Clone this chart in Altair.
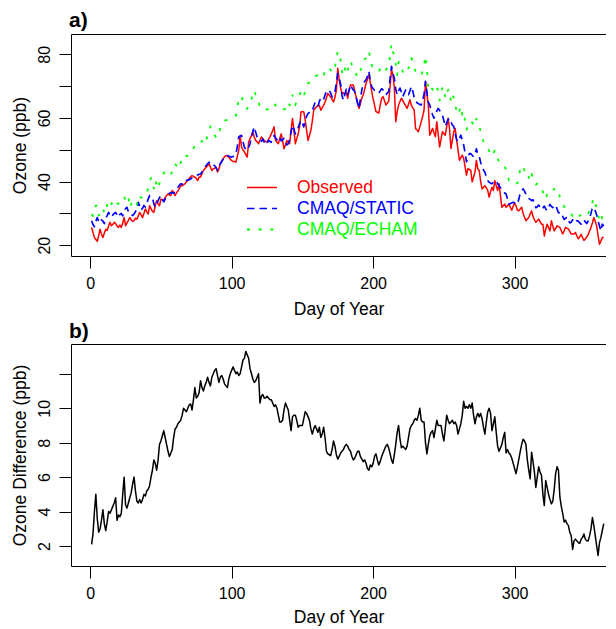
import altair as alt
import pandas as pd

FONT = "Liberation Sans"

series_names = ["Observed", "CMAQ/STATIC", "CMAQ/ECHAM"]
series_colors = ["#ff0000", "#0000ff", "#00ff00"]
series_dashes = [[1, 0], [7.5, 5], [3, 8.7]]
series_widths = [1.5, 1.8, 3.0]

x_ticks = [0, 100, 200, 300]
top_y_ticks = [20, 30, 40, 50, 60, 70, 80]
bottom_y_ticks = [2, 4, 6, 8, 10, 12]

# daily mean ozone (ppb), day 1 .. 363
observed = [
    25.6, 24.0, 22.4, 21.8, 21.2, 23.0, 25.0, 23.5, 22.4, 23.8,
    25.0, 24.6, 26.0, 27.2, 26.1, 26.5, 27.2, 26.8, 26.0, 25.6,
    26.3, 25.6, 27.0, 28.7, 26.1, 27.0, 27.8, 28.7, 28.0, 27.5,
    27.7, 28.5, 28.2, 29.2, 30.3, 29.5, 28.7, 30.0, 31.4, 30.5,
    29.8, 32.4, 31.5, 30.6, 30.3, 32.5, 34.0, 33.0, 32.4, 34.5,
    34.3, 34.0, 35.0, 35.6, 36.1, 35.8, 35.6, 37.2, 36.5, 35.6,
    36.5, 37.0, 37.8, 38.7, 38.7, 39.0, 39.3, 40.0, 40.3, 41.0,
    41.5, 41.9, 41.6, 41.4, 41.0, 40.3, 41.4, 41.4, 42.5, 43.5,
    44.0, 44.5, 45.0, 45.6, 44.5, 43.5, 44.0, 44.2, 44.5, 43.0,
    44.0, 45.6, 46.5, 47.2, 47.8, 48.2, 48.0, 47.7, 47.0, 46.6,
    46.4, 46.3, 46.1, 48.0, 49.8, 54.5, 50.8, 50.0, 49.3, 48.5,
    47.7, 52.4, 53.5, 54.5, 55.6, 54.0, 52.9, 52.5, 51.9, 53.0,
    54.0, 53.5, 52.9, 52.6, 52.4, 53.2, 54.0, 55.0, 56.0, 57.2,
    52.9, 52.4, 51.9, 53.5, 55.0, 52.9, 50.3, 51.5, 52.9, 52.4,
    51.9, 56.1, 59.8, 56.1, 51.9, 53.5, 55.0, 57.2, 61.9, 62.0,
    61.9, 59.3, 56.0, 52.9, 54.5, 56.1, 59.0, 62.4, 63.0, 63.5,
    63.8, 64.0, 62.4, 63.2, 64.0, 65.0, 66.3, 67.7, 67.2, 66.6,
    65.8, 65.0, 66.5, 68.7, 75.6, 71.9, 69.5, 67.7, 67.9, 67.3,
    68.2, 66.2, 68.7, 70.4, 70.4, 70.4, 68.5, 66.5, 64.5, 63.0,
    64.5, 66.2, 67.3, 69.0, 70.9, 72.2, 73.6, 71.0, 68.3, 66.0,
    64.0, 62.0, 61.8, 61.5, 64.0, 66.2, 66.7, 65.5, 64.1, 64.6,
    65.2, 70.0, 75.2, 73.6, 69.4, 58.8, 62.0, 64.1, 65.2, 66.2,
    65.4, 64.6, 63.8, 63.0, 64.3, 65.7, 64.0, 63.2, 62.5, 56.7,
    56.2, 55.7, 57.2, 58.8, 60.5, 62.5, 71.5, 67.8, 64.1, 54.6,
    55.6, 56.7, 55.4, 54.1, 58.8, 54.8, 50.9, 53.3, 55.7, 55.0,
    54.6, 57.3, 59.9, 56.7, 50.4, 53.0, 55.7, 56.7, 53.3, 50.0,
    46.7, 47.5, 48.3, 47.3, 44.6, 42.0, 44.1, 43.8, 43.6, 39.9,
    41.4, 43.0, 46.6, 44.0, 43.5, 40.0, 37.7, 38.2, 38.7, 38.0,
    37.2, 35.1, 36.8, 38.2, 37.2, 40.3, 38.7, 37.2, 39.3, 35.5,
    31.9, 32.4, 32.9, 31.9, 32.4, 33.0, 31.9, 31.0, 32.3, 33.2,
    32.4, 31.0, 30.8, 31.4, 31.9, 30.0, 28.8, 27.7, 28.2, 28.7,
    29.8, 30.8, 29.0, 28.0, 27.2, 27.7, 28.2, 27.4, 26.6, 26.6,
    22.9, 25.0, 26.6, 25.5, 24.5, 27.7, 26.0, 24.5, 25.3, 26.1,
    25.8, 25.6, 24.5, 23.5, 24.5, 25.6, 25.3, 25.1, 24.3, 23.5,
    23.5, 23.5, 24.0, 22.9, 22.0, 22.6, 23.4, 22.4, 21.5, 21.9,
    22.6, 23.3, 24.5, 25.6, 27.0, 28.7, 27.5, 26.1, 23.0, 20.3,
    21.3, 22.4, 22.4,
]

cmaq_static = [
    27.7, 26.5, 25.8, 27.5, 28.7, 27.5, 27.0, 28.0, 27.6, 26.8,
    28.5, 29.3, 30.3, 29.5, 28.8, 29.5, 30.0, 30.3, 29.5, 28.8,
    29.7, 30.0, 29.2, 30.8, 31.5, 31.9, 30.5, 29.7, 29.5, 29.3,
    29.8, 30.5, 31.5, 33.5, 32.2, 31.0, 31.6, 32.5, 32.0, 33.0,
    34.5, 35.6, 35.3, 35.0, 33.0, 31.9, 33.0, 34.0, 35.0, 35.6,
    34.5, 33.6, 34.5, 35.2, 35.8, 36.3, 36.6, 36.5, 36.3, 37.0,
    37.5, 38.2, 38.8, 39.3, 39.2, 39.0, 39.7, 40.3, 40.5, 40.6,
    40.8, 41.2, 41.5, 41.8, 41.9, 42.1, 42.3, 42.4, 43.0, 43.7,
    44.5, 45.0, 45.6, 46.1, 45.6, 45.0, 45.3, 45.0, 44.3, 43.5,
    44.6, 45.6, 46.3, 47.0, 47.7, 48.0, 48.2, 48.0, 47.8, 47.7,
    47.9, 48.2, 48.7, 51.0, 54.0, 54.3, 54.5, 52.5, 50.8, 50.2,
    49.8, 50.8, 51.9, 54.0, 55.8, 57.2, 55.5, 54.0, 53.5, 52.9,
    52.7, 53.4, 52.4, 51.6, 51.9, 53.0, 52.6, 52.4, 53.9, 54.5,
    53.8, 53.1, 54.2, 53.8, 52.8, 53.2, 53.6, 52.5, 51.5, 51.9,
    53.5, 55.5, 57.7, 56.5, 55.0, 56.0, 57.0, 58.2, 59.3, 58.5,
    57.2, 59.0, 60.6, 61.4, 61.8, 62.4, 62.2, 63.6, 65.0, 64.5,
    63.8, 65.2, 66.4, 66.0, 65.8, 67.2, 68.3, 68.2, 68.7, 67.8,
    66.6, 67.4, 68.2, 71.0, 74.0, 72.3, 70.8, 67.0, 65.6, 67.5,
    69.0, 67.3, 68.7, 70.4, 69.5, 68.8, 68.3, 66.5, 64.8, 63.0,
    66.0, 68.8, 70.5, 71.5, 72.0, 73.2, 74.6, 72.0, 69.8, 69.2,
    68.7, 68.3, 68.0, 67.8, 68.5, 69.2, 68.8, 68.0, 67.3, 67.8,
    68.3, 72.5, 76.2, 74.0, 72.5, 69.0, 67.3, 68.6, 69.4, 68.0,
    66.7, 67.8, 68.8, 68.0, 67.3, 68.5, 69.9, 68.5, 66.5, 65.2,
    64.8, 64.5, 64.2, 64.1, 65.5, 67.5, 71.5, 68.0, 65.0, 64.1,
    62.5, 61.0, 59.9, 61.0, 62.2, 63.0, 62.4, 61.6, 60.9, 59.2,
    57.3, 58.5, 59.5, 59.9, 58.8, 57.8, 57.3, 55.0, 53.2, 52.5,
    53.5, 54.6, 53.0, 51.5, 49.0, 46.2, 47.5, 48.8, 48.8, 48.3,
    47.8, 48.7, 50.3, 48.5, 48.0, 46.0, 44.5, 43.7, 42.9, 41.5,
    40.3, 39.8, 39.5, 39.3, 39.8, 40.3, 40.1, 39.4, 38.7, 38.0,
    37.2, 36.8, 36.4, 36.1, 34.5, 32.9, 33.1, 33.3, 33.5, 33.3,
    33.1, 32.9, 34.5, 36.5, 37.2, 37.7, 37.0, 36.0, 35.1, 34.7,
    34.4, 34.0, 34.3, 33.0, 31.8, 32.0, 32.6, 32.0, 31.2, 31.7,
    32.3, 31.4, 30.9, 31.9, 32.8, 32.2, 31.8, 32.4, 32.6, 31.4,
    30.2, 30.2, 30.3, 29.1, 28.1, 28.4, 28.9, 27.8, 27.0, 27.2,
    28.0, 27.6, 27.0, 27.7, 27.6, 27.0, 26.6, 27.3, 28.0, 27.3,
    26.8, 27.6, 28.5, 30.0, 31.9, 31.3, 30.8, 29.5, 27.7, 26.0,
    24.5, 26.6, 26.0,
]

cmaq_echam = [
    29.8, 29.2, 31.0, 32.5, 32.3, 29.3, 30.0, 31.5, 31.7, 30.1,
    30.0, 32.7, 34.3, 33.4, 32.9, 33.8, 34.5, 34.2, 33.2, 33.0,
    33.4, 33.9, 34.2, 35.3, 33.9, 34.8, 35.3, 31.8, 33.0, 34.0,
    34.3, 33.7, 32.8, 35.6, 35.2, 35.0, 34.8, 35.5, 35.6, 36.5,
    37.8, 40.0, 41.2, 39.5, 37.8, 40.4, 39.0, 37.7, 39.5, 41.0,
    41.5, 42.8, 43.0, 42.2, 41.8, 42.0, 42.0, 43.5, 45.0, 45.6,
    45.0, 44.5, 44.0, 46.0, 47.4, 47.0, 47.5, 48.2, 48.0, 48.5,
    49.0, 49.5, 50.5, 51.0, 50.8, 51.5, 52.0, 52.3, 52.8, 52.0,
    51.6, 53.0, 54.5, 56.0, 57.4, 56.2, 55.0, 54.5, 54.0, 53.7,
    55.0, 57.0, 57.8, 58.7, 59.1, 59.3, 59.4, 59.7, 59.8, 59.9,
    60.3, 60.4, 60.7, 63.1, 65.9, 66.3, 66.9, 65.3, 63.7, 63.5,
    62.9, 63.7, 64.2, 66.0, 67.5, 68.7, 67.1, 65.8, 65.5, 63.2,
    63.4, 63.4, 63.0, 62.8, 62.6, 62.8, 63.1, 63.7, 64.2, 64.6,
    64.0, 63.1, 63.0, 63.0, 62.8, 62.5, 62.8, 62.8, 63.5, 65.0,
    64.0, 64.2, 67.2, 64.5, 64.0, 65.3, 65.9, 67.2, 68.3, 67.5,
    66.6, 68.8, 70.3, 70.9, 71.1, 71.2, 71.5, 72.4, 73.2, 73.3,
    73.4, 72.5, 72.5, 73.0, 73.5, 74.5, 75.2, 75.5, 76.0, 75.0,
    74.2, 75.5, 76.0, 78.3, 81.0, 79.5, 78.2, 74.5, 73.2, 75.3,
    76.9, 75.1, 76.3, 77.9, 76.7, 75.8, 75.4, 73.8, 72.8, 74.5,
    75.0, 75.8, 77.4, 78.5, 78.8, 79.7, 81.0, 78.7, 76.4, 76.0,
    75.9, 75.6, 75.0, 74.5, 75.4, 76.4, 76.2, 75.6, 75.1, 75.7,
    76.0, 79.8, 83.2, 80.8, 79.8, 76.9, 73.5, 77.6, 77.6, 75.7,
    74.5, 75.5, 76.4, 75.8, 75.6, 77.3, 78.9, 77.6, 75.8, 74.6,
    74.1, 74.1, 74.2, 73.4, 74.7, 76.7, 79.5, 75.4, 69.0, 68.5,
    69.5, 69.0, 68.2, 69.8, 69.5, 68.5, 65.5, 68.0, 69.4, 69.8,
    66.1, 68.1, 68.8, 69.0, 65.0, 67.1, 66.4, 64.2, 62.2, 61.0,
    62.3, 63.7, 61.0, 61.9, 59.0, 56.3, 57.5, 59.0, 58.8, 58.6,
    57.4, 57.8, 59.8, 58.2, 57.5, 55.7, 53.9, 52.6, 51.4, 50.7,
    50.1, 49.8, 48.0, 48.3, 48.9, 49.8, 48.7, 47.2, 46.2, 45.7,
    45.1, 45.1, 45.0, 43.5, 42.1, 40.3, 40.4, 40.4, 40.3, 39.8,
    39.3, 39.5, 41.5, 44.0, 45.1, 44.5, 43.5, 42.5, 41.0, 41.5,
    40.3, 42.4, 40.4, 39.3, 39.0, 39.4, 38.4, 38.3, 38.0, 36.7,
    35.0, 34.5, 36.0, 36.9, 36.8, 36.6, 37.0, 37.7, 37.8, 38.0,
    37.2, 35.0, 33.9, 33.0, 32.1, 31.9, 31.5, 31.0, 30.3, 29.8,
    29.2, 29.9, 30.1, 30.0, 29.2, 29.2, 29.6, 29.8, 30.2, 29.7,
    29.5, 29.9, 31.1, 31.5, 33.5, 34.8, 33.4, 31.5, 29.2, 28.2,
    27.0, 29.5, 29.3,
]

# ozone difference (ppb), day 1 .. 363
ozone_difference = [
    2.1, 2.7, 4.0, 5.0, 3.6, 2.8, 3.0, 3.5, 4.1, 3.3,
    2.9, 3.4, 4.0, 3.9, 4.1, 4.3, 4.5, 4.8, 3.5, 3.8,
    3.7, 3.9, 5.0, 6.0, 4.4, 4.2, 4.5, 4.8, 5.1, 5.6,
    6.0, 5.2, 4.6, 4.5, 4.7, 4.5, 4.7, 5.0, 4.9, 5.2,
    5.3, 5.5, 6.0, 6.4, 7.0, 6.8, 6.4, 7.0, 7.9, 8.1,
    8.4, 8.7, 8.3, 7.9, 7.5, 7.2, 7.4, 7.6, 8.3, 8.8,
    8.9, 9.1, 9.2, 9.3, 9.6, 10.0, 9.9, 9.8, 10.0, 10.2,
    10.25, 9.9, 10.5, 11.2, 10.6, 10.7, 10.9, 11.6, 11.2, 11.0,
    11.3, 11.5, 11.8, 11.5, 11.3, 11.8, 12.0, 12.2, 12.3, 11.9,
    11.5, 11.8, 11.9, 11.7, 11.4, 11.3, 11.2, 11.7, 12.0, 12.2,
    12.4, 12.2, 12.0, 12.1, 11.9, 12.0, 12.4, 12.8, 12.9, 13.3,
    13.1, 12.9, 12.3, 12.0, 11.7, 11.5, 11.6, 11.8, 12.0, 10.3,
    10.7, 10.8, 10.6, 10.6, 10.7, 10.6, 10.5, 10.5, 10.3, 10.1,
    10.2, 10.0, 9.6, 9.2, 9.2, 9.3, 9.9, 10.3, 10.1, 9.9,
    9.3, 8.7, 9.5, 9.6, 9.6, 9.3, 8.9, 9.0, 9.0, 9.0,
    9.4, 9.8, 9.7, 9.5, 9.3, 8.8, 8.5, 8.8, 9.0, 8.8,
    8.6, 8.9, 8.3, 8.5, 8.9, 8.3, 7.5, 7.35, 7.3, 7.25,
    7.6, 8.1, 7.8, 7.3, 7.05, 7.2, 7.4, 7.5, 7.6, 7.8,
    7.9, 7.8, 7.6, 7.5, 7.2, 7.0, 7.1, 7.3, 7.5, 7.5,
    7.2, 7.05, 6.9, 7.0, 6.8, 6.5, 6.4, 6.7, 6.6, 6.8,
    7.2, 7.35, 7.0, 6.7, 6.9, 7.2, 7.4, 7.6, 7.8, 7.9,
    7.7, 7.35, 7.0, 6.8, 7.3, 7.9, 8.6, 9.0, 8.2, 7.7,
    7.8, 7.7, 7.6, 7.8, 8.3, 8.8, 9.0, 9.1, 9.3, 9.4,
    9.3, 9.6, 10.0, 9.3, 9.2, 9.2, 8.0, 7.35, 7.9, 8.4,
    8.6, 8.7, 8.3, 8.8, 9.3, 9.0, 9.0, 9.0, 8.5, 8.1,
    8.8, 9.6, 9.3, 9.1, 9.2, 9.3, 9.1, 9.2, 9.0, 8.5,
    8.8, 9.1, 9.6, 10.4, 10.0, 10.1, 10.0, 10.2, 10.0, 10.3,
    9.6, 9.1, 9.5, 9.7, 9.5, 9.7, 9.4, 8.9, 8.5, 9.2,
    9.8, 10.0, 9.7, 8.7, 9.1, 9.5, 8.6, 7.8, 7.5, 7.7,
    7.9, 8.3, 8.6, 7.4, 7.6, 7.4, 7.3, 7.1, 6.8, 6.5,
    6.2, 6.6, 7.05, 7.5, 7.9, 8.2, 8.1, 7.9, 7.0, 6.4,
    5.9, 7.45, 6.9, 6.3, 5.4, 6.0, 6.6, 6.3, 6.1, 5.0,
    4.35, 5.8, 5.4, 5.0, 4.7, 4.45, 4.6, 5.3, 6.2, 6.6,
    6.4, 4.85, 4.3, 3.9, 3.4, 3.5, 3.3, 3.2, 2.8, 2.6,
    1.8, 2.3, 2.4, 2.3, 2.2, 2.15, 2.4, 2.5, 2.7, 2.4,
    2.3, 2.3, 2.6, 3.0, 3.65, 3.2, 2.6, 2.0, 1.45, 2.2,
    2.5, 2.9, 3.3,
]

# ---------------------------------------------------------------- tables
rows = []
for name, vals in zip(series_names, [observed, cmaq_static, cmaq_echam]):
    for i, v in enumerate(vals):
        rows.append({"day": i + 1, "value": v, "series": name})
top_df = pd.DataFrame(rows)
bottom_df = pd.DataFrame({"day": list(range(1, len(ozone_difference) + 1)),
                          "diff": ozone_difference})

PLOT_W = 535
x_scale = alt.Scale(domain=[-13.56, 364.6], nice=False, zero=False)
top_y_scale = alt.Scale(domain=[16.6, 86.4], nice=False, zero=False)
bot_y_scale = alt.Scale(domain=[0.84, 13.73], nice=False, zero=False)

common_axis = dict(
    grid=False, domain=True, domainColor="black", domainWidth=1,
    tickSize=12, tickColor="black", tickWidth=1,
    labelFont=FONT, labelFontSize=16, labelColor="black",
    titleFont=FONT, titleFontSize=17.5, titleColor="black",
    titleFontWeight="normal", labelFlush=False, labelOverlap=False,
)


def x_axis(title_pad):
    return alt.Axis(values=x_ticks, title="Day of Year", labelPadding=7,
                    titlePadding=title_pad, **common_axis)


def y_axis(ticks, label_expr, title):
    return alt.Axis(values=ticks, labelExpr=label_expr, title=title,
                    labelAngle=270, labelAlign="center", labelBaseline="bottom",
                    labelPadding=7, titlePadding=7, **common_axis)


def top_frame(df, field, yscale):
    # invisible layer that only carries a top axis line (upper edge of the box)
    return alt.Chart(df).mark_line(strokeOpacity=0).encode(
        x=alt.X("day:Q", scale=x_scale,
                axis=alt.Axis(orient="top", labels=False, ticks=False, title=None,
                              grid=False, domain=True, domainColor="black",
                              domainWidth=1)),
        y=alt.Y(f"{field}:Q", scale=yscale, axis=None),
    )


legend = alt.Legend(
    title=None, orient="none", legendX=175, legendY=143,
    symbolType="stroke", symbolSize=900, labelFont=FONT, labelFontSize=17.5,
    labelOffset=19, rowPadding=0, clipHeight=21, padding=0,
    labelColor=alt.ExprRef(
        expr="datum.label == 'Observed' ? '#ff0000' : "
             "(datum.label == 'CMAQ/STATIC' ? '#0000ff' : '#00ff00')"),
)

top_lines = alt.Chart(top_df).mark_line(strokeCap="butt", strokeJoin="round").encode(
    x=alt.X("day:Q", scale=x_scale, axis=x_axis(9)),
    y=alt.Y("value:Q", scale=top_y_scale,
            axis=y_axis(top_y_ticks, "datum.value % 20 == 0 ? datum.label : ''",
                        "Ozone (ppb)")),
    color=alt.Color("series:N", scale=alt.Scale(domain=series_names, range=series_colors),
                    legend=legend),
    strokeDash=alt.StrokeDash("series:N", scale=alt.Scale(domain=series_names, range=series_dashes),
                              legend=legend),
    strokeWidth=alt.StrokeWidth("series:N", scale=alt.Scale(domain=series_names, range=series_widths),
                                legend=legend),
    order=alt.Order("day:Q"),
)

top = alt.layer(top_lines, top_frame(top_df, "value", top_y_scale)).resolve_axis(
    x="independent", y="independent"
).properties(
    width=PLOT_W, height=222,
    title=alt.TitleParams("a)", anchor="start", frame="group", dx=-2, offset=3,
                          font=FONT, fontSize=21, fontWeight="bold", color="black"),
)

bottom_line = alt.Chart(bottom_df).mark_line(color="black", strokeWidth=1.5,
                                             strokeJoin="round").encode(
    x=alt.X("day:Q", scale=x_scale, axis=x_axis(7)),
    y=alt.Y("diff:Q", scale=bot_y_scale,
            axis=y_axis(bottom_y_ticks, "datum.value <= 10 ? datum.label : ''",
                        "Ozone Difference (ppb)")),
)

bottom = alt.layer(bottom_line, top_frame(bottom_df, "diff", bot_y_scale)).resolve_axis(
    x="independent", y="independent"
).properties(
    width=PLOT_W, height=222,
    title=alt.TitleParams("b)", anchor="start", frame="group", dx=-2, offset=2,
                          font=FONT, fontSize=21, fontWeight="bold", color="black"),
)

chart = alt.vconcat(top, bottom, spacing=3).properties(
    padding={"left": 2, "top": 2, "right": 0, "bottom": 0}
).configure_view(stroke=None)

chart.save("out.html", embed_options={"renderer": "svg", "actions": False})
